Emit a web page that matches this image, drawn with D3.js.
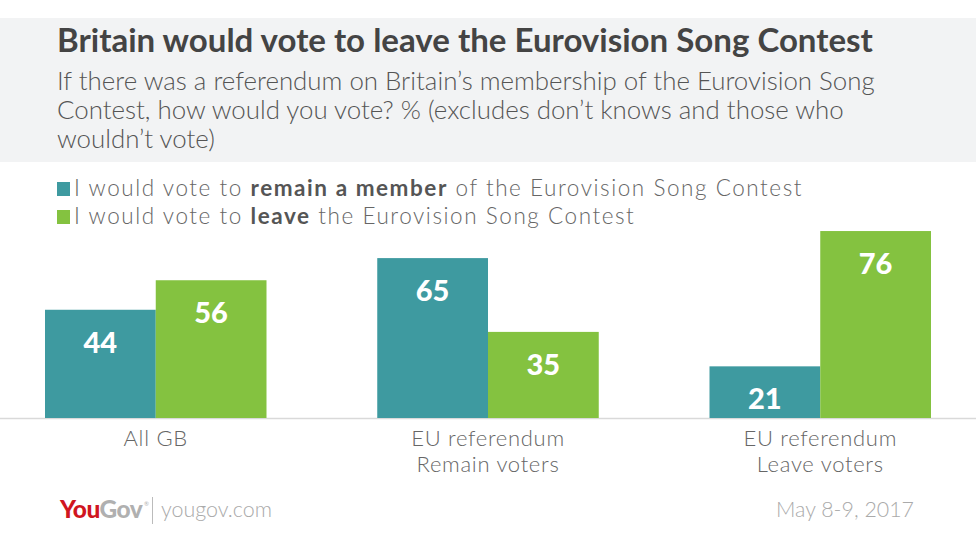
<!DOCTYPE html>
<html>
<head>
<meta charset="utf-8">
<script src="https://cdn.jsdelivr.net/npm/d3@7"></script>
<style>
  html, body { margin: 0; padding: 0; background: #fff; }
  svg { display: block; }
  text { font-family: Lato, "Open Sans", sans-serif; }
</style>
</head>
<body>
<svg id="chart" width="976" height="549"></svg>
<script>
// ---- data ----
const categories = [["All GB"], ["EU referendum", "Remain voters"], ["EU referendum", "Leave voters"]];
const seriesNames = ["remain", "leave"];
const remainValues = [44, 65, 21];
const leaveValues = [56, 35, 76];
const title = "Britain would vote to leave the Eurovision Song Contest";
const subtitleLines = [
  "If there was a referendum on Britain\u2019s membership of the Eurovision Song",
  "Contest, how would you vote? % (excludes don\u2019t knows and those who",
  "wouldn\u2019t vote)"
];
const legendParts = [
  ["I would vote to ", "remain a member", " of the Eurovision Song Contest"],
  ["I would vote to ", "leave", " the Eurovision Song Contest"]
];
const colors = ["#3e9aa0", "#84c240"];
const footerUrl = "yougov.com";
const footerDate = "May 8-9, 2017";

const svg = d3.select("#chart");

function fit(sel, target) {
  const node = sel.node();
  const fs = parseFloat(sel.attr("font-size"));
  const w = node.getComputedTextLength();
  sel.attr("font-size", (fs * target / w).toFixed(2));
}
function spread(sel, target) {
  const node = sel.node();
  const w = node.getComputedTextLength();
  const n = node.textContent.length;
  const ls = (target - w) / n;
  sel.attr("letter-spacing", ls.toFixed(3));
  return ls;
}

// header band
svg.append("rect").attr("x", 0).attr("y", 18).attr("width", 976).attr("height", 144).attr("fill", "#f2f3f4");

const t = svg.append("text").attr("x", 57).attr("y", 52).attr("font-size", 30)
  .attr("font-weight", 700).attr("fill", "#444").text(title);
fit(t, 816);

const subBase = [90, 119, 148];
let subFs = null;
subtitleLines.forEach((l, i) => {
  const s = svg.append("text").attr("x", 57).attr("y", subBase[i]).attr("font-size", 22)
    .attr("font-weight", 300).attr("fill", "#555").text(l);
  if (i === 0) { fit(s, 818); subFs = s.attr("font-size"); }
  else s.attr("font-size", subFs);
});

// legend
let legLs = null;
legendParts.forEach((parts, i) => {
  const yy = 196 + i * 28;
  svg.append("rect").attr("x", 57).attr("y", yy - 14).attr("width", 13).attr("height", 14).attr("fill", colors[i]);
  const lt = svg.append("text").attr("x", 74).attr("y", yy).attr("font-size", 22.5).attr("fill", "#666").attr("font-weight", 300);
  parts.forEach((p, j) => {
    lt.append("tspan").attr("font-weight", j === 1 ? 700 : 300).attr("fill", j === 1 ? "#555" : "#666").text(p);
  });
  if (i === 0) legLs = spread(lt, 729);
  else lt.attr("letter-spacing", legLs.toFixed(3));
});

// scales
const x0 = d3.scaleBand().domain(d3.range(categories.length)).range([45, 931]).paddingInner(1/3).paddingOuter(0);
const x1 = d3.scaleBand().domain(seriesNames).range([0, x0.bandwidth()]).padding(0);
const y = d3.scaleLinear().domain([0, 100]).range([418, 172]);

// axis baseline
svg.append("line").attr("x1", 0).attr("x2", 976).attr("y1", 418.5).attr("y2", 418.5)
  .attr("stroke", "#d9d9d9").attr("stroke-width", 1.5);

const data = categories.map((c, i) => ({ i, vals: [remainValues[i], leaveValues[i]] }));
const groups = svg.selectAll("g.grp").data(data).enter().append("g")
  .attr("transform", d => `translate(${x0(d.i)},0)`);

groups.selectAll("rect").data(d => d.vals.map((v, k) => ({ v, k }))).enter().append("rect")
  .attr("x", d => x1(seriesNames[d.k]))
  .attr("y", d => y(d.v))
  .attr("width", x1.bandwidth())
  .attr("height", d => y(0) - y(d.v))
  .attr("fill", d => colors[d.k]);

groups.selectAll("text.val").data(d => d.vals.map((v, k) => ({ v, k }))).enter().append("text")
  .attr("class", "val")
  .attr("x", d => x1(seriesNames[d.k]) + x1.bandwidth() / 2)
  .attr("y", d => y(d.v) + 43)
  .attr("text-anchor", "middle").attr("font-size", 29).attr("font-weight", 900)
  .attr("fill", "#fff").text(d => d.v);

// category labels
categories.forEach((lines, i) => {
  const cx = x0(i) + x0.bandwidth() / 2;
  lines.forEach((l, j) => {
    svg.append("text").attr("x", cx).attr("y", 446 + j * 26).attr("text-anchor", "middle")
      .attr("font-size", 22).attr("letter-spacing", 0.7).attr("font-weight", 300).attr("fill", "#666").text(l);
  });
});

// footer
const logo = svg.append("text").attr("x", 60).attr("y", 518).attr("font-size", 22).attr("font-weight", 900)
  .attr("letter-spacing", -0.5);
logo.append("tspan").attr("fill", "#d0161f").text("You");
logo.append("tspan").attr("fill", "#b0b0b0").text("Gov");
fit(logo, 82);
svg.append("text").attr("x", 144).attr("y", 506).attr("font-size", 6).attr("fill", "#b0b0b0").text("\u00ae");
svg.append("line").attr("x1", 152.5).attr("x2", 152.5).attr("y1", 497).attr("y2", 524).attr("stroke", "#bbb").attr("stroke-width", 1);
const url = svg.append("text").attr("x", 161).attr("y", 517).attr("font-size", 20).attr("font-weight", 300)
  .attr("fill", "#aaa").text(footerUrl);
fit(url, 111);
const dt = svg.append("text").attr("x", 914).attr("y", 517).attr("font-size", 20).attr("font-weight", 300)
  .attr("text-anchor", "end").attr("fill", "#aaa").text(footerDate);
fit(dt, 138);
</script>
</body>
</html>
